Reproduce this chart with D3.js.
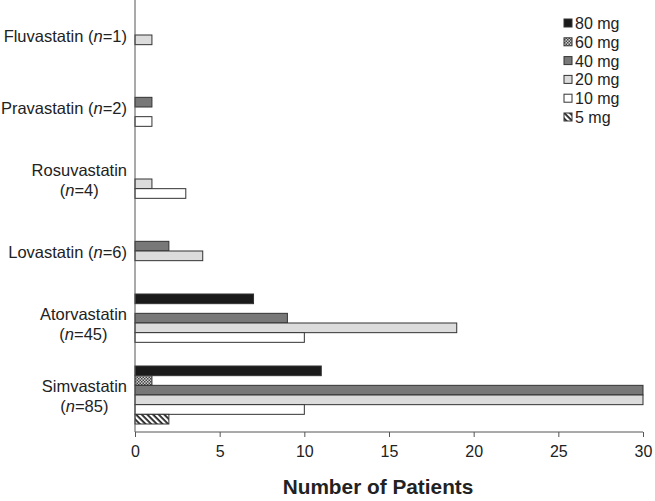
<!DOCTYPE html>
<html><head><meta charset="utf-8">
<script src="https://cdn.jsdelivr.net/npm/d3@7"></script>
<style>body{margin:0;background:#fff}svg{display:block;font-family:"Liberation Sans",Arial,sans-serif}</style>
</head><body><svg id="c" width="655" height="501"></svg>
<script>
const drugs = ["Fluvastatin", "Pravastatin", "Rosuvastatin", "Lovastatin", "Atorvastatin", "Simvastatin"];
const drugN = [1, 2, 4, 6, 45, 85];
const labelLines = [1, 1, 2, 1, 2, 2];
const doses = ["80 mg", "60 mg", "40 mg", "20 mg", "10 mg", "5 mg"];
const mg80 = [0, 0, 0, 0, 7, 11];
const mg60 = [0, 0, 0, 0, 0, 1];
const mg40 = [0, 1, 0, 2, 9, 30];
const mg20 = [1, 0, 1, 4, 19, 30];
const mg10 = [0, 1, 3, 0, 10, 10];
const mg5  = [0, 0, 0, 0, 0, 2];
const xTicks = [0, 5, 10, 15, 20, 25, 30];
const series = [mg80, mg60, mg40, mg20, mg10, mg5];
const fills = ["#1a1a1a", "url(#checker)", "#787878", "#dcdcdc", "#ffffff", "url(#hatch)"];

const svg = d3.select("#c");
const defs = svg.append("defs");
const ck = defs.append("pattern").attr("id","checker").attr("patternUnits","userSpaceOnUse").attr("width",3).attr("height",3);
ck.append("rect").attr("width",3).attr("height",3).attr("fill","#d0d0d0");
ck.append("rect").attr("width",1.5).attr("height",1.5).attr("fill","#444");
ck.append("rect").attr("x",1.5).attr("y",1.5).attr("width",1.5).attr("height",1.5).attr("fill","#444");
const ht = defs.append("pattern").attr("id","hatch").attr("patternUnits","userSpaceOnUse").attr("width",4).attr("height",4).attr("patternTransform","rotate(45)");
ht.append("rect").attr("width",4).attr("height",4).attr("fill","#fff");
ht.append("rect").attr("width",4).attr("height",1.8).attr("fill","#222");

const x0 = 135, x1 = 643, yTop = 0, yBot = 432;
const x = d3.scaleLinear().domain([0, 30]).range([x0, x1]);
const y = d3.scaleBand().domain(drugs).range([yTop, yBot]);
const yi = d3.scaleBand().domain(doses).range([6, 64]);

const rows = [];
drugs.forEach((d, i) => doses.forEach((m, j) => { if (series[j][i] > 0) rows.push({d, m, v: series[j][i], j}); }));

svg.append("g").selectAll("rect").data(rows).join("rect")
  .attr("x", x(0)).attr("y", r => y(r.d) + yi(r.m))
  .attr("width", r => x(Math.min(r.v, 30)) - x(0)).attr("height", yi.bandwidth())
  .attr("fill", r => fills[r.j]).attr("stroke", "#333").attr("stroke-width", 1);

// axes
const xa = svg.append("g").attr("transform", `translate(0,${yBot})`)
  .call(d3.axisBottom(x).tickValues(xTicks).tickSize(5).tickPadding(9).tickFormat(d3.format("d")));
xa.select(".domain").attr("stroke", "#555").attr("d", `M${x0},0H${x1}`);
xa.selectAll(".tick line").attr("stroke", "#555");
xa.selectAll(".tick text").attr("font-size", 16).attr("fill", "#222").attr("font-family", "Liberation Sans, Arial, sans-serif");
svg.append("line").attr("x1", x0).attr("x2", x0).attr("y1", yTop).attr("y2", yBot).attr("stroke", "#555");

// y labels
const lab = svg.append("g").attr("font-size", 16.5).attr("fill", "#222");
const labRight = 127;
drugs.forEach((d, i) => {
  const cy = y(d) + y.bandwidth() / 2;
  if (labelLines[i] === 1) {
    const t = lab.append("text").attr("x", labRight).attr("y", cy + 6).attr("text-anchor", "end");
    t.append("tspan").text(d + " (");
    t.append("tspan").attr("font-style", "italic").text("n");
    t.append("tspan").text("=" + drugN[i] + ")");
  } else {
    const t1 = lab.append("text").attr("y", cy - 4).attr("text-anchor", "middle").text(d);
    const t2 = lab.append("text").attr("y", cy + 16).attr("text-anchor", "middle");
    t2.append("tspan").text("(");
    t2.append("tspan").attr("font-style", "italic").text("n");
    t2.append("tspan").text("=" + drugN[i] + ")");
    const w = Math.max(t1.node().getComputedTextLength(), t2.node().getComputedTextLength());
    const cx = labRight - w / 2;
    t1.attr("x", cx); t2.attr("x", cx);
  }
});

// x title
svg.append("text").attr("x", 378).attr("y", 494).attr("text-anchor", "middle")
  .attr("font-size", 20.8).attr("font-weight", "bold").attr("fill", "#222").text("Number of Patients");

// legend
const lg = svg.append("g");
doses.forEach((m, j) => {
  const ly = 23 + j * 18.8;
  lg.append("rect").attr("x", 564).attr("y", ly - 4).attr("width", 8).attr("height", 8)
    .attr("fill", fills[j]).attr("stroke", "#333").attr("stroke-width", 1);
  lg.append("text").attr("x", 575).attr("y", ly + 6).attr("font-size", 16).attr("fill", "#222").text(m);
});
</script></body></html>
